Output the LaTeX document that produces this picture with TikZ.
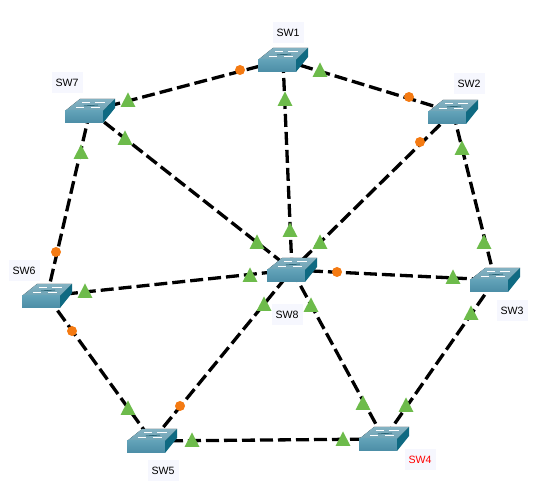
\documentclass[tikz,border=0pt]{standalone}
\usepackage{fontspec}
\setmainfont{Liberation Sans}
\usetikzlibrary{shapes.geometric}
\definecolor{swtop}{HTML}{84B2C2}
\definecolor{swtopb}{HTML}{6FA3B5}
\definecolor{swfront}{HTML}{62A2B8}
\definecolor{swfrontb}{HTML}{4B8DA6}
\definecolor{swside}{HTML}{0F6A82}
\definecolor{lblbg}{HTML}{F6F7FE}
\definecolor{mgreen}{HTML}{6DBB4B}
\definecolor{morange}{HTML}{F47A12}
\tikzset{
  x=1pt,y=-1pt,
  hub/.style={inner sep=0pt,minimum size=0pt,outer sep=0pt},
  link/.style={line width=3.3pt,black,dash pattern=on 13pt off 5pt},
  tri/.style={isosceles triangle,isosceles triangle stretches,shape border rotate=90,fill=mgreen,inner sep=0pt,minimum width=15pt,minimum height=14.5pt,outer sep=0pt,anchor=lower side,yshift=-7pt},
  dot/.style={circle,fill=morange,inner sep=0pt,minimum size=10pt,outer sep=0pt},
  lbl/.style={fill=lblbg,inner sep=0pt,minimum width=31pt,minimum height=21pt,font=\fontsize{10.6pt}{12pt}\selectfont,text=#1},
  lbl/.default=black,
  pics/switchbox/.style={code={
    \fill[top color=swtop,bottom color=swtopb] (-25,0) -- (-10,-12) -- (25,-12) -- (13,0) -- cycle;
    \fill[top color=swfront,bottom color=swfrontb] (-25,0) rectangle (13,12);
    \fill[swside] (13,0) -- (25,-12) -- (25,-3) -- (13,12) -- cycle;
    \draw[white,line width=.8pt] (-8,-8.5) -- (0,-8.5);
    \draw[white,line width=.8pt] (5,-8.5) -- (15,-8.5);
    \draw[white,line width=.8pt] (-14,-3.5) -- (-6,-3.5);
    \draw[white,line width=.8pt] (1,-3.5) -- (10,-3.5);
    \draw[swside!70!black,line width=.5pt] (-6,-5) -- (8,-6);
  }}
}
\begin{document}
\begin{tikzpicture}
\useasboundingbox (0,0) rectangle (552,494);
\node[hub] (s1) at (283,60) {};
\node[hub] (s2) at (453,112) {};
\node[hub] (s3) at (495,280) {};
\node[hub] (s4) at (384,439) {};
\node[hub] (s5) at (152,441) {};
\node[hub] (s6) at (47,296) {};
\node[hub] (s7) at (90,111) {};
\node[hub] (s8) at (292,270) {};
\foreach \a/\b in {s7/s1,s1/s2,s1/s8,s7/s8,s2/s8,s7/s6,s2/s3,s6/s8,s8/s3,s6/s5,s5/s8,s8/s4,s3/s4,s5/s4}
  \draw[link] (\a) -- (\b);
\foreach \p in {s1,s2,s3,s4,s5,s6,s7,s8}
  \pic at (\p) {switchbox};
\foreach \n/\x/\y in {t1/128/100,t2/320/70,t3/285/99,t4/125/138,t5/81/152,t6/462/148,t7/484/242,t8/471/313,t9/406/405,t10/363/403,t11/343/439,t12/192/440,t13/128/408,t14/85/291,t15/264/304,t16/311/305,t17/257/242,t18/290/230,t19/320/242,t20/453/277,t21/250/275}
  \node[tri] (\n) at (\x,\y) {};
\foreach \n/\x/\y in {d1/240/70,d2/409/97,d3/420/142,d4/337/272,d5/180/406,d6/72/331,d7/56/252}
  \node[dot] (\n) at (\x,\y) {};
\node[lbl] (l1) at (288,32.5) {SW1};
\node[lbl] (l2) at (469,83.5) {SW2};
\node[lbl] (l3) at (512,310.5) {SW3};
\node[lbl=red] (l4) at (420,459.5) {SW4};
\node[lbl] (l5) at (163,470.5) {SW5};
\node[lbl] (l6) at (24,270.5) {SW6};
\node[lbl] (l7) at (67,82.5) {SW7};
\node[lbl] (l8) at (287,314.5) {SW8};
\end{tikzpicture}
\end{document}
